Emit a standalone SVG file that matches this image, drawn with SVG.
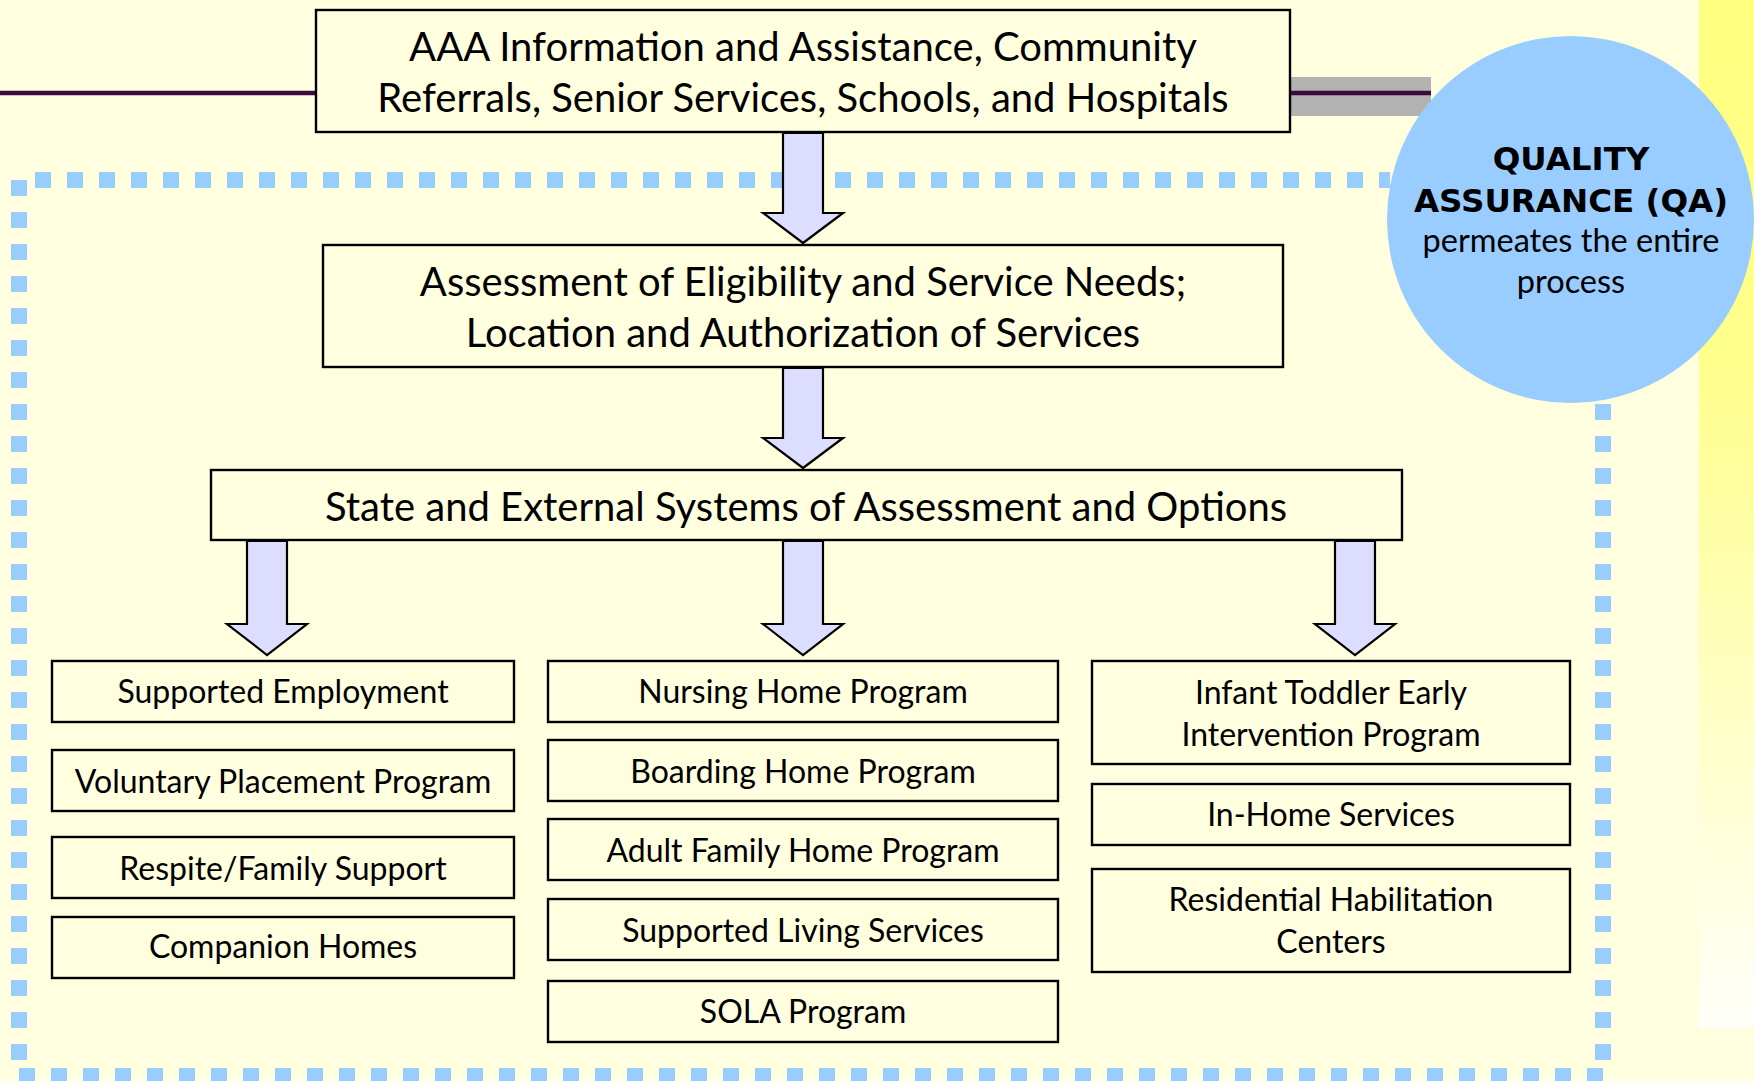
<svg xmlns="http://www.w3.org/2000/svg" width="1754" height="1081" viewBox="0 0 1754 1081">
  <defs>
    <linearGradient id="stripFade" x1="0" y1="0" x2="0" y2="1">
      <stop offset="0" stop-color="#ffff80"/>
      <stop offset="0.35" stop-color="#ffff8c"/>
      <stop offset="0.75" stop-color="#ffffcf"/>
      <stop offset="1" stop-color="#fffffa"/>
    </linearGradient>
    <style>
      .box { fill: #ffffe0; stroke: #000; stroke-width: 2.4; }
      .lbl { font-family: Lato, "Open Sans", "Liberation Sans", sans-serif; fill: #000; text-anchor: middle; }
      .big { font-size: 40px; }
      .mid { font-size: 32px; }
      .qa-b { font-family: "DejaVu Sans", "Liberation Sans", sans-serif; font-weight: 700; font-size: 32.5px; text-anchor: middle; fill: #000; }
      .qa { font-family: Lato, "Open Sans", "Liberation Sans", sans-serif; font-size: 32.5px; text-anchor: middle; fill: #000; }
      .dots { fill: none; stroke: #99ccff; stroke-width: 16; stroke-dasharray: 16 16; }
      .arrow { fill: #ddddff; stroke: #000; stroke-width: 2.2; stroke-linejoin: miter; }
    </style>
  </defs>

  <!-- page background -->
  <rect x="0" y="0" width="1754" height="1081" fill="#ffffe0"/>
  <!-- fading yellow strip on the right edge -->
  <rect x="1699" y="0" width="55" height="1028" fill="url(#stripFade)"/>

  <!-- dotted frame around the service area -->
  <g id="frame">
    <line class="dots" x1="35" y1="180" x2="1390" y2="180"/>
    <line class="dots" x1="19" y1="180" x2="19" y2="1060"/>
    <line class="dots" x1="19" y1="1076" x2="1603" y2="1076"/>
    <line class="dots" x1="1603" y1="404" x2="1603" y2="1060"/>
  </g>

  <!-- header rule behind the top box -->
  <g id="header-rule">
    <rect x="1291" y="77" width="140" height="39" fill="#b2b2b2"/>
    <line x1="0" y1="93" x2="316" y2="93" stroke="#3d0a3d" stroke-width="4.5"/>
    <line x1="1290" y1="93" x2="1431" y2="93" stroke="#3d0a3d" stroke-width="4.5"/>
  </g>

  <!-- flow arrows -->
  <g id="connectors">
    <path class="arrow" d="M783,133 L823,133 L823,213 L843,213 L803,243 L763,213 L783,213 Z"/>
    <path class="arrow" d="M783,368 L823,368 L823,438 L843,438 L803,468 L763,438 L783,438 Z"/>
    <path class="arrow" d="M247,541 L287,541 L287,624 L307,624 L267,655 L227,624 L247,624 Z"/>
    <path class="arrow" d="M783,541 L823,541 L823,624 L843,624 L803,655 L763,624 L783,624 Z"/>
    <path class="arrow" d="M1335,541 L1375,541 L1375,624 L1395,624 L1355,655 L1315,624 L1335,624 Z"/>
  </g>

  <!-- top level -->
  <g id="intake">
    <rect class="box" x="316" y="10" width="974" height="122"/>
    <text class="lbl big" x="803" y="61">AAA Information and Assistance, Community</text>
    <text class="lbl big" x="803" y="112">Referrals, Senior Services, Schools, and Hospitals</text>
  </g>

  <g id="assessment">
    <rect class="box" x="323" y="245" width="960" height="122"/>
    <text class="lbl big" x="803" y="296">Assessment of Eligibility and Service Needs;</text>
    <text class="lbl big" x="803" y="347">Location and Authorization of Services</text>
  </g>

  <g id="state-systems">
    <rect class="box" x="211" y="470" width="1191" height="70"/>
    <text class="lbl big" x="806" y="521">State and External Systems of Assessment and Options</text>
  </g>

  <!-- left column -->
  <g id="supported-employment">
    <rect class="box" x="52" y="661" width="462" height="61"/>
    <text class="lbl mid" x="283" y="703">Supported Employment</text>
  </g>
  <g id="voluntary-placement">
    <rect class="box" x="52" y="750" width="462" height="61"/>
    <text class="lbl mid" x="283" y="793">Voluntary Placement Program</text>
  </g>
  <g id="respite">
    <rect class="box" x="52" y="837" width="462" height="61"/>
    <text class="lbl mid" x="283" y="880">Respite/Family Support</text>
  </g>
  <g id="companion-homes">
    <rect class="box" x="52" y="917" width="462" height="61"/>
    <text class="lbl mid" x="283" y="958">Companion Homes</text>
  </g>

  <!-- middle column -->
  <g id="nursing-home">
    <rect class="box" x="548" y="661" width="510" height="61"/>
    <text class="lbl mid" x="803" y="703">Nursing Home Program</text>
  </g>
  <g id="boarding-home">
    <rect class="box" x="548" y="740" width="510" height="61"/>
    <text class="lbl mid" x="803" y="783">Boarding Home Program</text>
  </g>
  <g id="adult-family-home">
    <rect class="box" x="548" y="819" width="510" height="61"/>
    <text class="lbl mid" x="803" y="862">Adult Family Home Program</text>
  </g>
  <g id="supported-living">
    <rect class="box" x="548" y="899" width="510" height="61"/>
    <text class="lbl mid" x="803" y="942">Supported Living Services</text>
  </g>
  <g id="sola">
    <rect class="box" x="548" y="981" width="510" height="61"/>
    <text class="lbl mid" x="803" y="1023">SOLA Program</text>
  </g>

  <!-- right column -->
  <g id="infant-toddler">
    <rect class="box" x="1092" y="661" width="478" height="103"/>
    <text class="lbl mid" x="1331" y="704">Infant Toddler Early</text>
    <text class="lbl mid" x="1331" y="746">Intervention Program</text>
  </g>
  <g id="in-home">
    <rect class="box" x="1092" y="784" width="478" height="61"/>
    <text class="lbl mid" x="1331" y="826">In-Home Services</text>
  </g>
  <g id="residential-habilitation">
    <rect class="box" x="1092" y="869" width="478" height="103"/>
    <text class="lbl mid" x="1331" y="911">Residential Habilitation</text>
    <text class="lbl mid" x="1331" y="953">Centers</text>
  </g>

  <!-- quality assurance badge -->
  <g id="quality-assurance">
    <circle cx="1570.5" cy="219.5" r="183.5" fill="#99ccff"/>
    <text class="qa-b" x="1571" y="170">QUALITY</text>
    <text class="qa-b" x="1571" y="212">ASSURANCE (QA)</text>
    <text class="qa" x="1571" y="252">permeates the entire</text>
    <text class="qa" x="1571" y="293">process</text>
  </g>
</svg>
